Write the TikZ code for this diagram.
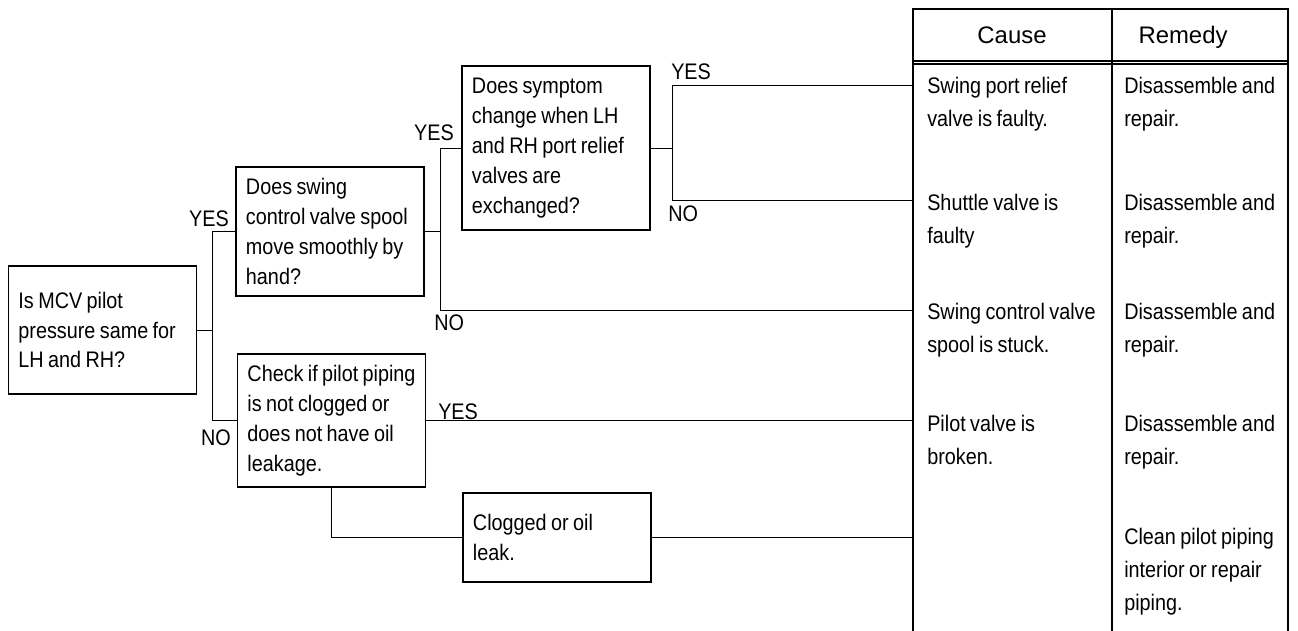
\documentclass[tikz,border=0pt]{standalone}
\usepackage{fontspec}
\setmainfont[FakeStretch=0.88, WordSpace=0.8]{Liberation Sans}
\newfontfamily\headfont{Liberation Sans}
\usetikzlibrary{positioning}

\begin{document}
\begin{tikzpicture}[x=0.025cm, y=-0.025cm,
    question/.style={draw, line width=0.8pt, align=flush left, inner xsep=0.25cm, text width=4.2cm, font=\fontsize{16}{21.3}\selectfont},
    answer/.style={inner sep=0pt, font=\fontsize{16}{19}\selectfont},
    entry/.style={anchor=north west, inner sep=0pt, align=left, font=\fontsize{16}{23.5}\selectfont},
    heading/.style={anchor=base, inner sep=0pt, font=\headfont\fontsize{17}{20}\selectfont},
    link/.style={line width=0.7pt},
    frame/.style={line width=0.8pt}]
    \useasboundingbox (0,0) rectangle (1298,631);
    % question boxes
    \node[question, minimum height=3.2cm] (mcv) at (102.5,330) {Is MCV pilot\\pressure same for\\LH and RH?};
    \node[question, minimum height=3.225cm] (spool) at (330,231.5) {Does swing\\control valve spool\\move smoothly by\\hand?};
    \node[question, minimum height=3.325cm] (piping) at (331.5,420.5) {Check if pilot piping\\is not clogged or\\does not have oil\\leakage.};
    \node[question, minimum height=4.1cm] (symptom) at (556,148) {Does symptom\\change when LH\\and RH port relief\\valves are\\exchanged?};
    \node[question, minimum height=2.225cm] (clog) at (557,537.5) {Clogged or oil\\leak.};
    % table frame
    \coordinate (tl) at (913,9);
    \coordinate (tm) at (1112,9);
    \coordinate (tr) at (1288,9);
    \coordinate (bl) at (913,631);
    \coordinate (bm) at (1112,631);
    \coordinate (br) at (1288,631);
    \draw[frame] (bl) -- (tl) -- (tr) -- (br);
    \draw[frame] (tm) -- (bm);
    \draw[frame] (913,61) -- (1288,61) (913,64) -- (1288,64);
    \node[heading] (cause) at (1012,43.5) {Cause};
    \node[heading] (remedy) at (1183,43.5) {Remedy};
    % rows
    \coordinate (r1) at (913,85);
    \coordinate (r2) at (913,200);
    \coordinate (r3) at (913,310);
    \coordinate (r4) at (piping.east -| tl);
    \coordinate (r5) at (clog.east -| tl);
    \node[entry] (c1) at (927,77) {Swing port relief\\valve is faulty.};
    \node[entry] (c2) at (927,194) {Shuttle valve is\\faulty};
    \node[entry] (c3) at (927,303) {Swing control valve\\spool is stuck.};
    \node[entry] (c4) at (927,415) {Pilot valve is\\broken.};
    \node[entry] (m1) at (1124,77) {Disassemble and\\repair.};
    \node[entry] (m2) at (1124,194) {Disassemble and\\repair.};
    \node[entry] (m3) at (1124,303) {Disassemble and\\repair.};
    \node[entry] (m4) at (1124,415) {Disassemble and\\repair.};
    \node[entry] (m5) at (1124,528) {Clean pilot piping\\interior or repair\\piping.};
    % connectors
    \draw[link] (mcv.east) -- ++(15,0) coordinate (j1);
    \draw[link] (spool.west) -| (j1) |- (piping.west);
    \draw[link] (spool.east) -- ++(16,0) coordinate (j2);
    \draw[link] (symptom.west) -| (j2) |- (r3);
    \draw[link] (symptom.east) -- ++(22,0) coordinate (j3);
    \draw[link] (r1) -| (j3) |- (r2);
    \draw[link] (piping.east) -- (r4);
    \draw[link] (piping.south) |- (clog.west);
    \draw[link] (clog.east) -- (r5);
    % answers
    \node[answer, anchor=east] (yes1) at (229,219) {YES};
    \node[answer, anchor=east] (no1) at (231,438) {NO};
    \node[answer, anchor=east] (yes2) at (454,133) {YES};
    \node[answer, anchor=west] (no2) at (434,323) {NO};
    \node[answer, anchor=west] (yes3) at (671,72) {YES};
    \node[answer, anchor=west] (no3) at (668,214) {NO};
    \node[answer, anchor=west] (yes4) at (438,412) {YES};
\end{tikzpicture}
\end{document}
